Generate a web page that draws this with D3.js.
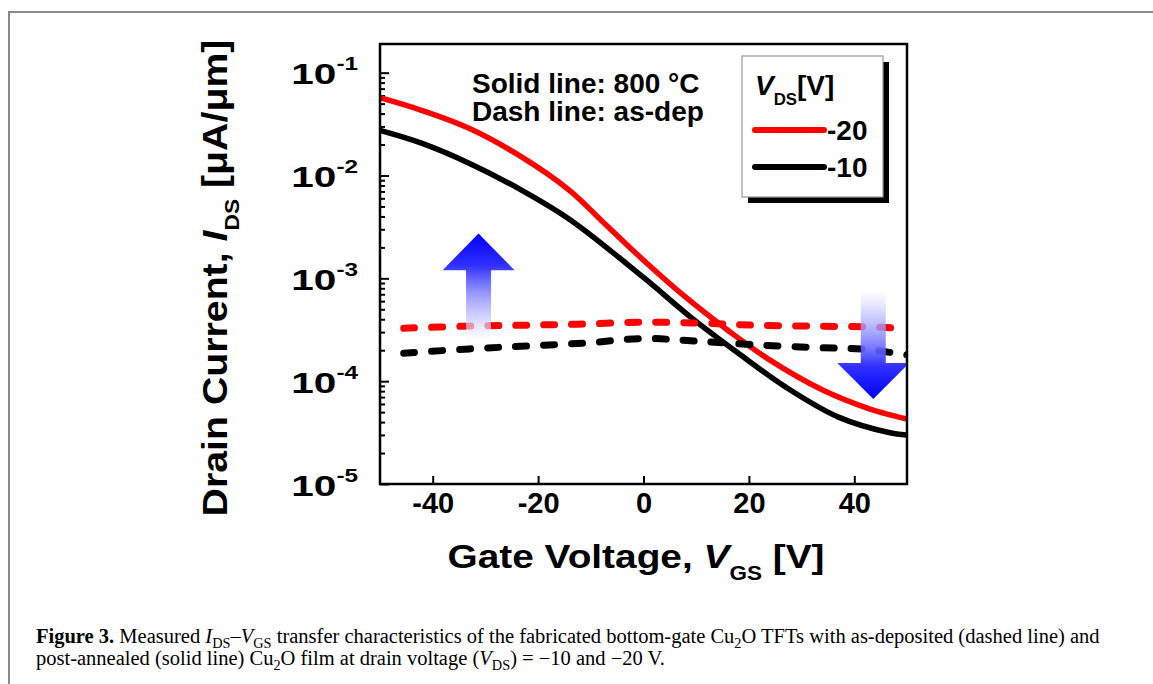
<!DOCTYPE html>
<html lang="en">
<head>
<meta charset="UTF-8">
<script src="https://cdnjs.cloudflare.com/ajax/libs/d3/7.8.5/d3.min.js"></script>
<style>
    body { margin: 0; background: #fff; }
    svg { display: block; }
    .chart text { font-family: "Liberation Sans", Arial, sans-serif; font-weight: bold; fill: #000; }
    .caption text { font-family: "Liberation Serif", "Times New Roman", serif; fill: #000; }
</style>
</head>
<body>
<svg id="fig" width="1153" height="684"></svg>
<script>
// gate voltage (V) and drain current (uA/um)
// solid = annealed at 800 C, dashed = as-deposited
var vgsAnn20 = [-50, -42, -33, -23, -14, -8, 0, 8, 16, 24, 34, 43, 47, 50];
var idsAnn20 = [5.71e-2, 4.28e-2, 2.86e-2, 1.50e-2, 7.14e-3, 3.66e-3, 1.50e-3, 6.55e-4, 3.13e-4, 1.60e-4, 8.19e-5, 5.34e-5, 4.68e-5, 4.28e-5];
var vgsAnn10 = [-50, -42, -33, -23, -14, 0, 9, 18, 27, 37, 47, 50];
var idsAnn10 = [2.74e-2, 2.05e-2, 1.31e-2, 7.14e-3, 3.74e-3, 1.02e-3, 4.18e-4, 1.87e-4, 8.75e-5, 4.47e-5, 3.13e-5, 2.99e-5];
var vgsDep20 = [-45.5, -34, -23, -12.5, 0, 11.5, 21, 34, 45, 50];
var idsDep20 = [3.27e-4, 3.42e-4, 3.50e-4, 3.58e-4, 3.74e-4, 3.66e-4, 3.50e-4, 3.42e-4, 3.35e-4, 3.20e-4];
var vgsDep10 = [-45.5, -33, -22, -10.5, 0, 10, 21, 33, 42, 50];
var idsDep10 = [1.87e-4, 2.06e-4, 2.20e-4, 2.36e-4, 2.60e-4, 2.45e-4, 2.26e-4, 2.12e-4, 2.04e-4, 1.80e-4];

var xTicks = [-40, -20, 0, 20, 40];
var yDecades = [-5, -4, -3, -2, -1];
var vdsLabels = ["-20", "-10"];
var vdsColors = ["#ff0000", "#000000"];

(function () {
var svg = d3.select("#fig");

// outer figure border (only top and left visible)
svg.append("rect")
    .attr("x", 9).attr("y", 12).attr("width", 1300).attr("height", 900)
    .attr("fill", "none").attr("stroke", "#8a8a8a").attr("stroke-width", 2);

var chart = svg.append("g").attr("class", "chart");

var pl = 380, pr = 907, pt = 44, pb = 484;
var x = d3.scaleLinear().domain([-50, 50]).range([pl, pr]);
var y = d3.scaleLog().domain([1e-5, 0.19]).range([pb, pt]);

var defs = svg.append("defs");
defs.append("clipPath").attr("id", "plotClip")
    .append("rect").attr("x", pl).attr("y", pt)
    .attr("width", pr - pl).attr("height", pb - pt);

// gradients for the arrows
function grad(id, stops) {
    var g = defs.append("linearGradient").attr("id", id)
        .attr("x1", 0).attr("y1", 0).attr("x2", 0).attr("y2", 1);
    stops.forEach(function (s) {
        g.append("stop").attr("offset", s[0]).attr("stop-color", s[1]).attr("stop-opacity", s[2]);
    });
}
grad("upGrad", [[0, "#0000ff", 1], [0.3, "#3030ff", 1], [0.55, "#8080ff", 0.85], [1, "#ffffff", 0.6]]);
grad("downGrad", [[0, "#ffffff", 0.6], [0.45, "#8080ff", 0.85], [0.7, "#3030ff", 1], [1, "#0000ff", 1]]);

// axes
var xAxis = chart.append("g")
    .attr("transform", "translate(0," + pb + ")")
    .call(d3.axisBottom(x).tickValues(xTicks).tickSize(-8).tickPadding(8)
        .tickFormat(function (d) { return String(d); }));
xAxis.select(".domain").remove();
xAxis.selectAll(".tick line").attr("stroke", "#000").attr("stroke-width", 2);
xAxis.selectAll(".tick text").attr("font-size", 29);
xAxis.attr("font-family", null).attr("font-size", null);

var minor = [];
yDecades.forEach(function (e) {
    for (var k = 2; k <= 9; k++) {
        var v = k * Math.pow(10, e);
        if (v < 0.19) minor.push(v);
    }
});
var yMinor = chart.append("g")
    .attr("transform", "translate(" + pl + ",0)")
    .call(d3.axisLeft(y).tickValues(minor).tickSize(-5).tickFormat(""));
yMinor.select(".domain").remove();
yMinor.selectAll(".tick line").attr("stroke", "#000").attr("stroke-width", 2);

var yAxis = chart.append("g")
    .attr("transform", "translate(" + pl + ",0)")
    .call(d3.axisLeft(y).tickValues(yDecades.map(function (e) { return Math.pow(10, e); }))
        .tickSize(-9).tickFormat(""));
yAxis.select(".domain").remove();
yAxis.attr("font-family", null).attr("font-size", null);
yAxis.selectAll(".tick line").attr("stroke", "#000").attr("stroke-width", 2);
yAxis.selectAll(".tick").each(function (d, i) {
    var t = d3.select(this).append("text")
        .attr("transform", "translate(-22,11) scale(1.35,1)")
        .attr("text-anchor", "end").attr("font-size", 30);
    t.append("tspan").text("10");
    t.append("tspan").attr("dy", -14).attr("font-size", 18).text(String(yDecades[i]));
});

// curves
var line = function (xs) {
    return d3.line()
        .x(function (d, i) { return x(xs[i]); })
        .y(function (d) { return y(d); })
        .curve(d3.curveCatmullRom.alpha(0.5));
};
var plot = chart.append("g").attr("clip-path", "url(#plotClip)");

[[vgsAnn20, idsAnn20, vdsColors[0]], [vgsAnn10, idsAnn10, vdsColors[1]]].forEach(function (s) {
    plot.append("path")
        .attr("d", line(s[0])(s[1]))
        .attr("fill", "none").attr("stroke", s[2]).attr("stroke-width", 5.5);
});
[[vgsDep20, idsDep20, vdsColors[0]], [vgsDep10, idsDep10, vdsColors[1]]].forEach(function (s) {
    plot.append("path")
        .attr("d", line(s[0])(s[1]))
        .attr("fill", "none").attr("stroke", s[2]).attr("stroke-width", 7)
        .attr("stroke-linecap", "round").attr("stroke-dasharray", "11,17");
});

// arrows (annotation): centre V, tip, head base, tail current
var arrows = [
    {v: -31.3, tip: 2.73e-3, base: 1.2e-3, tail: 2.5e-4, fill: "url(#upGrad)"},
    {v: 43.6, tip: 6.7e-5, base: 1.5e-4, tail: 7.6e-4, fill: "url(#downGrad)"}
];
arrows.forEach(function (a) {
    var cx = x(a.v), hw = 36, sw = 12.5;
    var yt = y(a.tip), yb = y(a.base), ye = y(a.tail);
    var p = d3.path();
    p.moveTo(cx, yt);
    p.lineTo(cx + hw, yb);
    p.lineTo(cx + sw, yb);
    p.lineTo(cx + sw, ye);
    p.lineTo(cx - sw, ye);
    p.lineTo(cx - sw, yb);
    p.lineTo(cx - hw, yb);
    p.closePath();
    plot.append("path").attr("d", p.toString()).attr("fill", a.fill);
});

// frame
chart.append("rect")
    .attr("x", pl).attr("y", pt).attr("width", pr - pl).attr("height", pb - pt)
    .attr("fill", "none").attr("stroke", "#000").attr("stroke-width", 2.5);

// rich text helper: parts with sub / italic / bold, sizes relative to parent
function rich(sel, parts) {
    var shift = 0;
    parts.forEach(function (p) {
        var r = p.sub ? (p.r || 0.6) : 1;
        var target = p.sub ? (p.s || 0.35) : 0;
        var ts = sel.append("tspan").text(p.t)
            .attr("dy", ((target - shift) / r) + "em");
        if (p.sub) ts.attr("font-size", r + "em");
        if (p.i) ts.attr("font-style", "italic");
        if (p.b) ts.attr("font-weight", "bold");
        shift = target;
    });
}

// text notes
chart.append("text").attr("x", 472).attr("y", 93).attr("font-size", 28).text("Solid line: 800 \u00b0C");
chart.append("text").attr("x", 472).attr("y", 121).attr("font-size", 28).text("Dash line: as-dep");

// legend
var lg = chart.append("g");
lg.append("rect").attr("x", 748).attr("y", 62).attr("width", 141).attr("height", 141).attr("fill", "#000");
lg.append("rect").attr("x", 742).attr("y", 56).attr("width", 141).attr("height", 141)
    .attr("fill", "#fff").attr("stroke", "#9a9a9a").attr("stroke-width", 1.2);
rich(lg.append("text").attr("x", 755).attr("y", 95).attr("font-size", 28),
    [{t: "V", i: true}, {t: "DS", sub: true, r: 0.6, s: 0.35}, {t: "[V]"}]);
vdsLabels.forEach(function (lab, i) {
    var ly = 130 + i * 37;
    lg.append("line").attr("x1", 755).attr("x2", 824).attr("y1", ly).attr("y2", ly)
        .attr("stroke", vdsColors[i]).attr("stroke-width", 6).attr("stroke-linecap", "round");
    lg.append("text").attr("x", 827).attr("y", ly + 10).attr("font-size", 28).text(lab);
});

// axis titles
function fit(sel, target, base) {
    var w = sel.node().getBBox().width;
    sel.attr("transform", base + " scale(" + (target / w) + ",1)");
}
var xt = chart.append("text").attr("text-anchor", "middle").attr("font-size", 34);
rich(xt, [{t: "Gate Voltage, "}, {t: "V", i: true}, {t: "GS", sub: true, r: 0.58, s: 0.35}, {t: " [V]"}]);
fit(xt, 377, "translate(636,568)");

var yt = chart.append("text").attr("text-anchor", "middle").attr("font-size", 35);
rich(yt, [{t: "Drain Current, "}, {t: "I", i: true}, {t: "DS", sub: true, r: 0.58, s: 0.35}, {t: " [\u03bcA/\u03bcm]"}]);
fit(yt, 477, "translate(227,278) rotate(-90)");

// caption
var cap = svg.append("g").attr("class", "caption");
var c1 = cap.append("text").attr("x", 36).attr("y", 643).attr("font-size", 18);
rich(c1, [{t: "Figure 3.", b: true}, {t: " Measured "}, {t: "I", i: true},
    {t: "DS", sub: true, r: 0.7, s: 0.25}, {t: "\u2013"}, {t: "V", i: true},
    {t: "GS", sub: true, r: 0.7, s: 0.25},
    {t: " transfer characteristics of the fabricated bottom-gate Cu"},
    {t: "2", sub: true, r: 0.7, s: 0.25},
    {t: "O TFTs with as-deposited (dashed line) and"}]);
var c2 = cap.append("text").attr("x", 36).attr("y", 665).attr("font-size", 18);
rich(c2, [{t: "post-annealed (solid line) Cu"}, {t: "2", sub: true, r: 0.7, s: 0.25},
    {t: "O film at drain voltage ("}, {t: "V", i: true}, {t: "DS", sub: true, r: 0.7, s: 0.25},
    {t: ") = \u221210 and \u221220 V."}]);
var w1 = c1.node().getComputedTextLength();
var fs = 18 * 1064 / w1;
c1.attr("font-size", fs);
c2.attr("font-size", fs);
})();
</script>
</body>
</html>
